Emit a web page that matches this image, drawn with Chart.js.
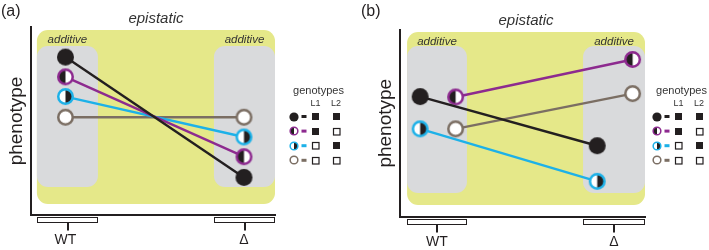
<!DOCTYPE html>
<html>
<head>
<meta charset="utf-8">
<script src="https://cdn.jsdelivr.net/npm/chart.js@4.4.0/dist/chart.umd.min.js"></script>
<style>
    body { margin: 0; background: #fff; }
    #wrap { position: relative; width: 709px; height: 250px; overflow: hidden; }
    canvas { position: absolute; top: 0; }
    #chartA { left: 0; }
    #chartB { left: 360px; }
</style>
</head>
<body>
<div id="wrap">
    <canvas id="chartA" width="355" height="250"></canvas>
    <canvas id="chartB" width="349" height="250"></canvas>
</div>
<script>
// categories on the x axis
const categories = ['WT', 'Δ'];
// genotypes (legend rows): 1 = filled square, 0 = empty square
const genotypeNames = ['L1 L2', 'L1', 'L2', 'none'];
const genotypeL1 = [1, 1, 0, 0];
const genotypeL2 = [1, 0, 1, 0];
const seriesColors = ['#231f20', '#8d2a8f', '#1db1e8', '#7b6e63'];
// which half of the marker is black
const markerFill = ['full', 'left', 'right', 'none'];

// panel (a) - phenotype values
const aWT = [8.4, 7.35, 6.3, 5.2];
const aDelta = [2.0, 3.1, 4.15, 5.2];
const aShift = [0, 0, 0, 0];

// panel (b) - phenotype values
const bWT = [6.42, 6.4, 4.7, 4.7];
const bDelta = [3.8, 8.4, 1.9, 6.58];
const bShift = [-0.095, 0.105, -0.095, 0.105];

const FONT = "'Liberation Sans', Arial, sans-serif";
const INK = '#231f20';

// marker drawn on a small canvas (used as pointStyle)
function makeMarker(color, fill, r, lw) {
    const size = Math.ceil(2 * r + 2);
    const c = document.createElement('canvas');
    c.width = size;
    c.height = size;
    const ctx = c.getContext('2d');
    const cx = size / 2, cy = size / 2;
    if (fill === 'full') {
        ctx.fillStyle = INK;
        ctx.beginPath();
        ctx.arc(cx, cy, r, 0, Math.PI * 2);
        ctx.fill();
        return c;
    }
    const ri = r - lw / 2;
    ctx.fillStyle = '#fff';
    ctx.beginPath();
    ctx.arc(cx, cy, ri, 0, Math.PI * 2);
    ctx.fill();
    if (fill === 'left' || fill === 'right') {
        ctx.fillStyle = INK;
        ctx.beginPath();
        if (fill === 'left') {
            ctx.arc(cx, cy, ri, Math.PI / 2, Math.PI * 1.5);
        } else {
            ctx.arc(cx, cy, ri, -Math.PI / 2, Math.PI / 2);
        }
        ctx.closePath();
        ctx.fill();
    }
    ctx.strokeStyle = color;
    ctx.lineWidth = lw;
    ctx.beginPath();
    ctx.arc(cx, cy, ri, 0, Math.PI * 2);
    ctx.stroke();
    return c;
}

const bigMarkers = seriesColors.map((c, i) => makeMarker(c, markerFill[i], 8.5, 2.5));
const smallMarkers = seriesColors.map((c, i) => makeMarker(c, markerFill[i], 4.6, 1.5));

// backgrounds, labels, brackets and legend
const decorPlugin = {
    id: 'panelDecor',
    beforeDatasetsDraw(chart, args, opts) {
        const { ctx, chartArea: area, scales: { x } } = chart;
        const yTop = area.top + opts.yellowTop;
        const yBot = area.bottom - opts.yellowBottom;
        const left = x.getPixelForValue(opts.boxes[0][0]);
        const right = area.right;
        ctx.save();
        ctx.fillStyle = '#e5e889';
        ctx.beginPath();
        ctx.roundRect(left, yTop, right - left, yBot - yTop, 11);
        ctx.fill();

        ctx.font = 'italic 11.5px ' + FONT;
        ctx.textAlign = 'center';
        ctx.textBaseline = 'middle';
        opts.boxes.forEach(b => {
            const l = x.getPixelForValue(b[0]);
            const r = x.getPixelForValue(b[1]);
            const gt = area.top + opts.grayTop;
            const gb = area.bottom - opts.grayBottom;
            ctx.fillStyle = '#d9dadc';
            ctx.beginPath();
            ctx.roundRect(l, gt, r - l, gb - gt, 11);
            ctx.fill();
            ctx.fillStyle = '#333';
            ctx.fillText('additive', (l + r) / 2, yTop + 10);
        });

        ctx.font = 'italic 15px ' + FONT;
        ctx.fillStyle = '#333';
        ctx.fillText('epistatic', (left + right) / 2, area.top - 8.5);
        ctx.restore();
    },
    afterDraw(chart, args, opts) {
        const { ctx, chartArea: area, scales: { x } } = chart;
        ctx.save();
        // brackets under the x axis
        ctx.strokeStyle = INK;
        ctx.lineWidth = 1;
        opts.boxes.forEach(b => {
            const l = Math.round(x.getPixelForValue(b[0])) + 0.5;
            const r = Math.round(x.getPixelForValue(b[1])) - 0.5;
            const t = area.bottom + 2.5;
            ctx.strokeRect(l, t, r - l, 5);
            const m = Math.round((l + r) / 2);
            ctx.lineWidth = 2;
            ctx.beginPath();
            ctx.moveTo(m, t + 5);
            ctx.lineTo(m, t + 13);
            ctx.stroke();
            ctx.lineWidth = 1;
        });

        // panel label
        ctx.fillStyle = INK;
        ctx.font = '16px ' + FONT;
        ctx.textAlign = 'left';
        ctx.textBaseline = 'middle';
        ctx.fillText(opts.label, 1, 12);

        // legend
        const lx = opts.legendX;
        ctx.fillStyle = '#333';
        ctx.textAlign = 'center';
        ctx.font = '11px ' + FONT;
        ctx.fillText('genotypes', lx + 24.5, 91);
        ctx.font = '9px ' + FONT;
        ctx.fillText('L1', lx + 21.5, 104);
        ctx.fillText('L2', lx + 42, 104);
        genotypeNames.forEach((name, i) => {
            const y = 116.5 + i * 14.6;
            const m = smallMarkers[i];
            ctx.drawImage(m, Math.round(lx - m.width / 2), Math.round(y - m.height / 2));
            ctx.fillStyle = seriesColors[i];
            ctx.fillRect(lx + 7.5, y - 1.5, 5, 3);
            [genotypeL1[i], genotypeL2[i]].forEach((on, k) => {
                const sx = Math.round(lx + (k === 0 ? 21.5 : 42) - 3.5);
                const sy = Math.round(y - 3.5);
                if (on) {
                    ctx.fillStyle = INK;
                    ctx.fillRect(sx, sy, 7, 7);
                } else {
                    ctx.strokeStyle = INK;
                    ctx.lineWidth = 1.2;
                    ctx.strokeRect(sx + 0.5, sy + 0.5, 6.5, 6.5);
                }
            });
        });
        ctx.restore();
    }
};

function buildDatasets(wt, delta, shift) {
    return genotypeNames.map((name, i) => ({
        label: name,
        data: [{ x: 0 + shift[i], y: wt[i] }, { x: 1 + shift[i], y: delta[i] }],
        borderColor: seriesColors[i],
        borderWidth: 2.4,
        pointStyle: bigMarkers[i],
        pointRadius: 8,
        showLine: true,
        clip: false,
    }));
}

function makePanel(id, cfg) {
    const ctx = document.getElementById(id).getContext('2d');
    return new Chart(ctx, {
        type: 'scatter',
        data: { datasets: buildDatasets(cfg.wt, cfg.delta, cfg.shift) },
        plugins: [decorPlugin],
        options: {
            responsive: false,
            animation: false,
            events: [],
            layout: { padding: { top: cfg.top, right: cfg.right, left: 0, bottom: 0 } },
            scales: {
                x: {
                    type: 'linear',
                    min: cfg.xmin,
                    max: cfg.xmax,
                    afterBuildTicks: s => { s.ticks = [{ value: 0 }, { value: 1 }]; },
                    afterFit: s => { s.height = cfg.xHeight; },
                    ticks: {
                        callback: (v, i) => categories[i],
                        font: { family: FONT, size: 14 },
                        color: INK,
                        padding: 17,
                        autoSkip: false,
                        maxRotation: 0,
                    },
                    grid: { display: false, drawTicks: false },
                    border: { display: true, color: INK, width: 2 },
                },
                y: {
                    min: 0,
                    max: 10,
                    afterFit: s => { s.width = cfg.yWidth; },
                    ticks: { display: false },
                    grid: { display: false, drawTicks: false },
                    border: { display: true, color: INK, width: 2 },
                    title: {
                        display: true,
                        text: 'phenotype',
                        color: INK,
                        font: { family: FONT, size: 19 },
                        padding: { top: cfg.titlePad, bottom: 0 },
                    },
                },
            },
            plugins: {
                legend: { display: false },
                tooltip: { enabled: false },
                panelDecor: cfg.decor,
            },
        },
    });
}

makePanel('chartA', {
    wt: aWT, delta: aDelta, shift: aShift,
    top: 27, right: 80, xHeight: 35, yWidth: 31, titlePad: 5,
    xmin: -0.193, xmax: 1.174,
    decor: {
        label: '(a)', legendX: 294,
        boxes: [[-0.16, 0.182], [0.832, 1.174]],
        yellowTop: 3, yellowBottom: 11, grayTop: 19, grayBottom: 28,
    },
});

makePanel('chartB', {
    wt: bWT, delta: bDelta, shift: bShift,
    top: 29.5, right: 64, xHeight: 33, yWidth: 40, titlePad: 14,
    xmin: -0.209, xmax: 1.175,
    decor: {
        label: '(b)', legendX: 297,
        boxes: [[-0.169, 0.169], [0.825, 1.175]],
        yellowTop: 2.5, yellowBottom: 12, grayTop: 16.5, grayBottom: 24,
    },
});
</script>
</body>
</html>
